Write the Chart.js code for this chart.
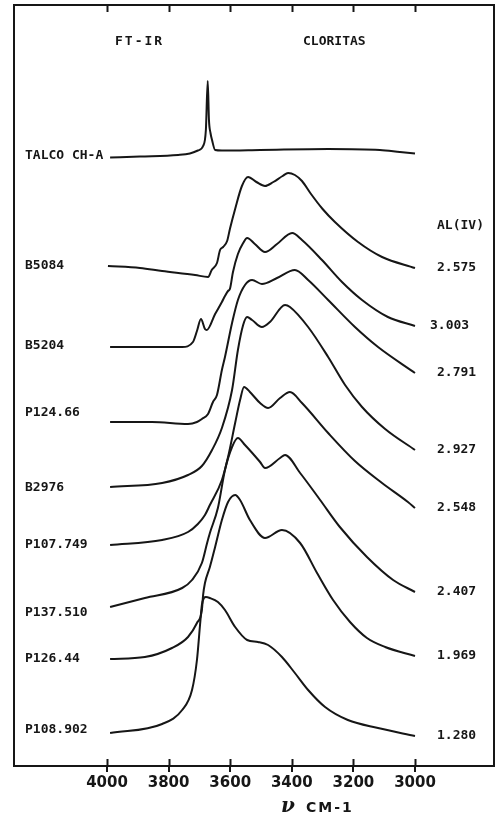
<!DOCTYPE html>
<html>
<head>
<meta charset="utf-8">
<script src="https://cdn.jsdelivr.net/npm/chart.js@4.4.1/dist/chart.umd.min.js"></script>
<style>
  body { margin: 0; background: #fff; }
  canvas { display: block; }
</style>
</head>
<body>
<canvas id="irChart" width="499" height="816"></canvas>
<script>
// sample names (left) and Al(IV) per formula unit (right)
const sampleNames = ['TALCO CH-A', 'B5084', 'B5204', 'P124.66', 'B2976', 'P107.749', 'P137.510', 'P126.44', 'P108.902'];
const alIV = ['', '2.575', '3.003', '2.791', '2.927', '2.548', '2.407', '1.969', '1.280'];
const xTicks = [4000, 3800, 3600, 3400, 3200, 3000];

// OH stretching region, wavenumber (cm-1) and stacked signal (arbitrary units)
const talcoWn = [3990, 3893, 3769, 3731, 3705, 3688, 3679, 3673, 3669, 3664, 3659, 3649, 3627, 3503, 3282, 3114, 3049, 3000];
const talcoY  = [608.5, 609.5, 611, 612.5, 615.5, 620, 636, 685, 646, 633, 626, 616, 615.5, 616, 617, 616, 614, 612.5];

const b5084Wn = [3997, 3893, 3821, 3714, 3672, 3660, 3643, 3633, 3623, 3610, 3601, 3584, 3562, 3542, 3515, 3487, 3460, 3430, 3412, 3390, 3367, 3340, 3300, 3260, 3185, 3107, 3000];
const b5084Y  = [500, 498, 495, 491, 489, 496, 503, 516, 519, 525, 537, 557, 580, 589, 584, 580, 584, 590, 593, 591, 585, 573, 557, 544, 524, 509, 498];

const b5204Wn = [3990, 3756, 3721, 3708, 3695, 3682, 3676, 3649, 3627, 3617, 3607, 3601, 3591, 3575, 3558, 3545, 3520, 3487, 3448, 3399, 3367, 3302, 3237, 3172, 3088, 3000];
const b5204Y  = [419, 419, 424, 435, 447, 437, 436, 452, 464, 470, 475, 477, 494, 512, 523, 528, 522, 514, 522, 533, 526, 506, 484, 466, 449, 440];

const p12466Wn = [3990, 3854, 3737, 3708, 3692, 3672, 3656, 3643, 3627, 3617, 3594, 3575, 3552, 3529, 3497, 3448, 3390, 3347, 3282, 3195, 3120, 3000];
const p12466Y  = [344, 344, 342, 344, 347, 352, 364, 371, 396, 409, 443, 466, 481, 486, 482, 488, 496, 486, 466, 439, 419, 393];

const b2976Wn = [3990, 3821, 3737, 3692, 3659, 3627, 3594, 3575, 3558, 3545, 3529, 3497, 3471, 3422, 3406, 3347, 3282, 3227, 3172, 3097, 3000];
const b2976Y  = [279, 283, 291, 300, 316, 338, 376, 416, 441, 449, 446, 439, 444, 461, 459, 439, 409, 381, 359, 337, 316];

const p107Wn = [3990, 3821, 3737, 3705, 3682, 3666, 3627, 3607, 3584, 3568, 3555, 3536, 3503, 3477, 3438, 3406, 3367, 3282, 3195, 3107, 3023, 3000];
const p107Y  = [221, 226, 234, 242, 251, 261, 286, 309, 343, 366, 379, 374, 363, 358, 368, 374, 363, 333, 305, 283, 264, 258];

const p137Wn = [3990, 3877, 3756, 3724, 3692, 3675, 3666, 3640, 3617, 3594, 3575, 3552, 3503, 3487, 3438, 3422, 3373, 3308, 3244, 3156, 3071, 3000];
const p137Y  = [159, 168, 178, 186, 203, 223, 233, 258, 296, 319, 328, 321, 304, 298, 308, 311, 293, 266, 239, 209, 186, 174];

const p12644Wn = [3990, 3877, 3789, 3737, 3708, 3692, 3688, 3682, 3666, 3649, 3627, 3607, 3584, 3568, 3536, 3487, 3432, 3373, 3318, 3266, 3211, 3156, 3097, 3000];
const p12644Y  = [107, 109, 118, 129, 143, 156, 171, 183, 199, 219, 246, 264, 271, 266, 246, 228, 236, 223, 193, 166, 144, 128, 119, 110];

const p108Wn = [3990, 3821, 3756, 3724, 3708, 3698, 3692, 3685, 3679, 3666, 3640, 3617, 3584, 3545, 3510, 3477, 3432, 3390, 3347, 3292, 3218, 3120, 3000];
const p108Y  = [33, 42, 56, 76, 106, 141, 161, 168, 169, 168, 164, 156, 139, 126, 124, 121, 109, 93, 76, 59, 46, 38, 30];

const traces = [
    [talcoWn, talcoY], [b5084Wn, b5084Y], [b5204Wn, b5204Y], [p12466Wn, p12466Y], [b2976Wn, b2976Y],
    [p107Wn, p107Y], [p137Wn, p137Y], [p12644Wn, p12644Y], [p108Wn, p108Y]
];

// small nudges for the labels, px
const nameNudge = [-2, 0, -1, -9, 1, 0, 6, 0, -3];
const alNudgeX = [0, 0, -7, 0, 0, 0, 0, 0, 0];
const ink = '#161616';
const labelFont = 'bold 13px "DejaVu Sans Mono"';

let datasets = [];
for (let i = 0; i < traces.length; i++) {
    let wn = traces[i][0];
    let vals = traces[i][1];
    let pts = [];
    for (let j = 0; j < wn.length; j++) {
        pts.push({ x: wn[j], y: vals[j] });
    }
    datasets.push({
        label: sampleNames[i],
        data: pts,
        borderColor: ink,
        borderWidth: 2,
        pointRadius: 0,
        fill: false,
        cubicInterpolationMode: 'monotone'
    });
}

// frame, tick marks above the axis and all the lettering
const decor = {
    id: 'decor',
    beforeDraw(chart) {
        let ctx = chart.ctx;
        ctx.save();
        ctx.fillStyle = '#fff';
        ctx.fillRect(0, 0, chart.width, chart.height);
        ctx.restore();
    },
    afterDraw(chart) {
        let ctx = chart.ctx;
        let a = chart.chartArea;
        let xs = chart.scales.x;
        let ys = chart.scales.y;
        ctx.save();
        ctx.strokeStyle = ink;
        ctx.lineWidth = 2;
        ctx.strokeRect(a.left, a.top, a.right - a.left, a.bottom - a.top);

        ctx.beginPath();
        for (let t of xTicks) {
            let px = Math.round(xs.getPixelForValue(t)) + 0.5;
            ctx.moveTo(px, a.top);
            ctx.lineTo(px, a.top + 7);
            ctx.moveTo(px, a.bottom);
            ctx.lineTo(px, a.bottom - 7);
        }
        ctx.stroke();

        ctx.fillStyle = ink;
        ctx.font = labelFont;
        ctx.textBaseline = 'middle';
        ctx.textAlign = 'left';

        ctx.letterSpacing = '2px';
        ctx.fillText('FT-IR', 115, 42);
        ctx.letterSpacing = '0px';
        ctx.fillText('CLORITAS', 303, 42);
        ctx.fillText('AL(IV)', 437, 226);

        for (let i = 0; i < traces.length; i++) {
            let vals = traces[i][1];
            let yl = ys.getPixelForValue(vals[0]) + nameNudge[i];
            ctx.fillText(sampleNames[i], 25, yl);
            if (alIV[i]) {
                let yr = ys.getPixelForValue(vals[vals.length - 1]);
                ctx.fillText(alIV[i], 437 + alNudgeX[i], yr);
            }
        }

        // axis title
        ctx.font = 'bold italic 20px "DejaVu Serif"';
        ctx.fillText('\u03BD', 281, 807);
        ctx.font = 'bold 14px "DejaVu Sans"';
        ctx.letterSpacing = '2px';
        ctx.fillText('CM-1', 306, 808);
        ctx.restore();
    }
};

new Chart(document.getElementById('irChart'), {
    type: 'line',
    data: { datasets: datasets },
    options: {
        responsive: false,
        animation: false,
        devicePixelRatio: 1,
        layout: { padding: { left: 14, right: 5, top: 5, bottom: 0 } },
        plugins: { legend: { display: false }, tooltip: { enabled: false } },
        scales: {
            x: {
                type: 'linear',
                reverse: true,
                min: 2743.5,
                max: 4302,
                afterBuildTicks: function (scale) {
                    scale.ticks = xTicks.map(v => ({ value: v }));
                },
                afterFit: function (scale) {
                    scale.height = 50;
                },
                grid: { drawOnChartArea: false, tickLength: 6, color: ink, lineWidth: 2 },
                border: { display: true, color: ink, width: 2 },
                ticks: {
                    color: ink,
                    padding: 2,
                    maxRotation: 0,
                    font: { family: 'DejaVu Sans', size: 15, weight: 'bold' },
                    callback: function (value) {
                        return String(value);
                    }
                }
            },
            y: { display: false, min: 0, max: 761 }
        }
    },
    plugins: [decor]
});
</script>
</body>
</html>
